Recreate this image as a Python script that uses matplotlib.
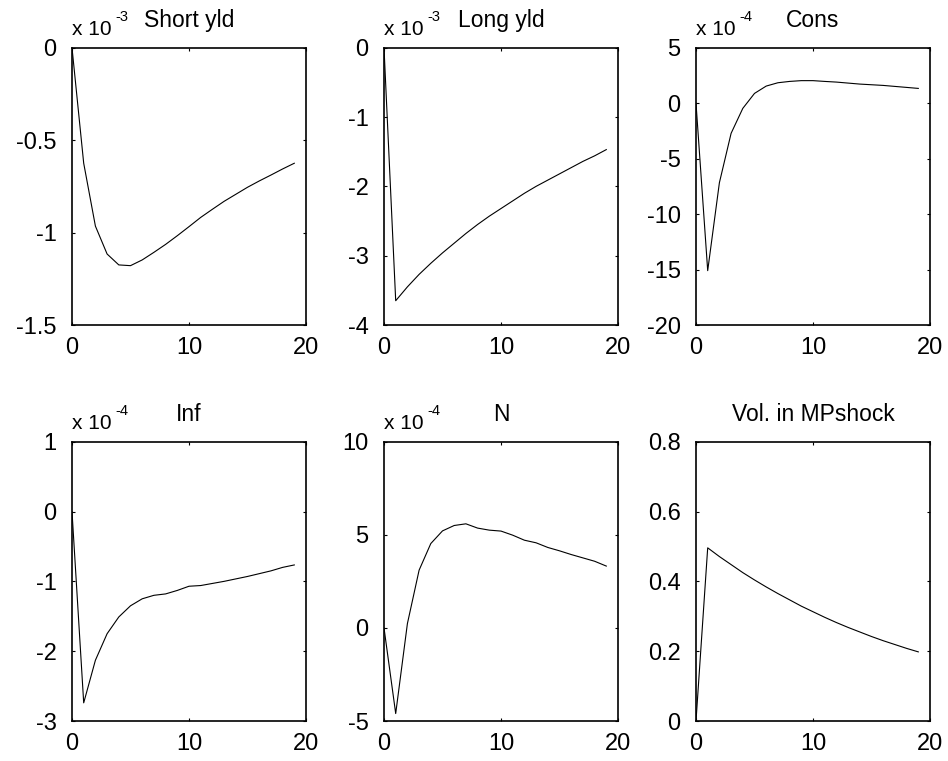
import matplotlib
matplotlib.use("Agg")
import matplotlib.pyplot as plt

plt.rcParams['font.family'] = ['Liberation Sans', 'DejaVu Sans']

t = list(range(20))

short_yld = [0.0, -0.625, -0.965, -1.116, -1.175, -1.179, -1.148, -1.107, -1.064, -1.017,
             -0.968, -0.918, -0.874, -0.831, -0.793, -0.755, -0.721, -0.689, -0.656, -0.625]
long_yld = [0.0, -3.65, -3.45, -3.27, -3.11, -2.96, -2.82, -2.68, -2.55, -2.43,
            -2.32, -2.21, -2.10, -2.00, -1.91, -1.82, -1.73, -1.64, -1.56, -1.47]
cons = [0.0, -15.1, -7.17, -2.72, -0.47, 0.88, 1.54, 1.84, 1.96, 2.03,
        2.03, 1.96, 1.90, 1.81, 1.72, 1.66, 1.60, 1.51, 1.42, 1.33]
inf = [0.0, -2.74, -2.13, -1.75, -1.51, -1.35, -1.25, -1.20, -1.18, -1.13,
       -1.07, -1.06, -1.03, -1.00, -0.965, -0.93, -0.89, -0.85, -0.80, -0.765]
n_hours = [0.0, -4.6, 0.23, 3.1, 4.53, 5.21, 5.5, 5.59, 5.36, 5.25,
           5.2, 4.98, 4.71, 4.57, 4.32, 4.14, 3.94, 3.76, 3.58, 3.32]
vol = [0.0, 0.496, 0.471, 0.448, 0.425, 0.404, 0.384, 0.365, 0.347, 0.329,
       0.313, 0.297, 0.282, 0.268, 0.255, 0.242, 0.230, 0.219, 0.208, 0.198]

titles = ["Short yld", "Long yld", "Cons", "Inf", "N", "Vol. in MPshock"]
series = [short_yld, long_yld, cons, inf, n_hours, vol]
exponents = ["-3", "-3", "-4", "-4", "-4", None]
ylims = [(-1.5, 0), (-4, 0), (-20, 5), (-3, 1), (-5, 10), (0, 0.8)]
yticks = [[-1.5, -1, -0.5, 0], [-4, -3, -2, -1, 0], [-20, -15, -10, -5, 0, 5],
          [-3, -2, -1, 0, 1], [-5, 0, 5, 10], [0, 0.2, 0.4, 0.6, 0.8]]
yticklabels = [["-1.5", "-1", "-0.5", "0"], ["-4", "-3", "-2", "-1", "0"],
               ["-20", "-15", "-10", "-5", "0", "5"], ["-3", "-2", "-1", "0", "1"],
               ["-5", "0", "5", "10"], ["0", "0.2", "0.4", "0.6", "0.8"]]
xticks = [0, 10, 20]

W, H = 948, 761
fig = plt.figure(figsize=(W / 100, H / 100), dpi=100)

lefts = [72, 384, 696]
tops = [47.7, 441.7]
bottoms = [325, 721]
aw = 234

for i in range(6):
    r, c = divmod(i, 3)
    l = lefts[c]
    top, bot = tops[r], bottoms[r]
    ax = fig.add_axes([l / W, (H - bot) / H, aw / W, (bot - top) / H])
    ax.plot(t, series[i], color='black', linewidth=0.8)
    ax.set_xlim(0, 20)
    ax.set_ylim(*ylims[i])
    ax.set_xticks(xticks)
    ax.set_xticklabels([str(v) for v in xticks])
    ax.set_yticks(yticks[i])
    ax.set_yticklabels(yticklabels[i])
    ax.tick_params(direction='in', length=2.5, width=0.8, top=True, right=True,
                   labelsize=17)
    ax.tick_params(axis='y', pad=11)
    ax.tick_params(axis='x', pad=9)
    for s in ax.spines.values():
        s.set_linewidth(1.2)
    ax.set_title(titles[i], fontsize=16.5, pad=15)
    if exponents[i] is not None:
        ax.annotate("x 10", xy=(0, 1), xycoords='axes fraction',
                    xytext=(0, 13), textcoords='offset pixels',
                    ha='left', va='baseline', fontsize=15)
        ax.annotate(exponents[i], xy=(0, 1), xycoords='axes fraction',
                    xytext=(43, 27), textcoords='offset pixels',
                    ha='left', va='baseline', fontsize=10.5)

fig.savefig("out.png", dpi=100, facecolor='white')
